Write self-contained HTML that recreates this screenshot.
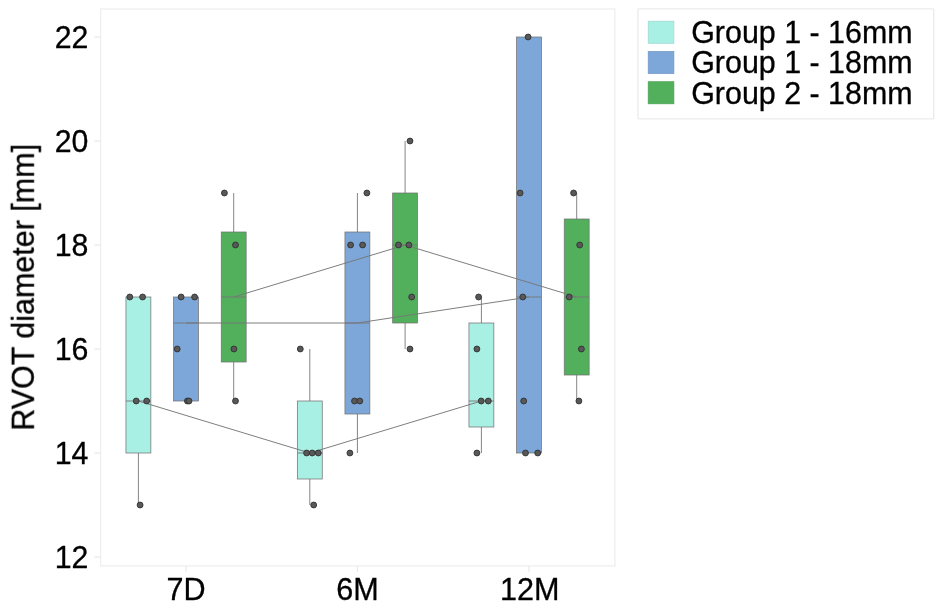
<!DOCTYPE html>
<html><head><meta charset="utf-8"><title>RVOT diameter</title>
<style>
html,body{margin:0;padding:0;background:#fff;}
svg{display:block}
.t{font-family:"Liberation Sans",sans-serif;font-size:30px;fill:#000;stroke:#000;stroke-width:0.3px;}
</style></head><body>
<svg width="945" height="608" viewBox="0 0 945 608">
<rect width="945" height="608" fill="#fff"/>
<g style="opacity:0.999">
<rect x="100.6" y="9.0" width="514.3" height="556.9" fill="#fff" stroke="#eeeeee" stroke-width="1.3"/>
<line x1="94.39999999999999" x2="100.6" y1="557.0" y2="557.0" stroke="#e9e9e9" stroke-width="1.2"/>
<text transform="translate(88.4,568.4) scale(1.01,1.048)" text-anchor="end" class="t">12</text>
<line x1="94.39999999999999" x2="100.6" y1="453.0" y2="453.0" stroke="#e9e9e9" stroke-width="1.2"/>
<text transform="translate(88.4,464.4) scale(1.01,1.048)" text-anchor="end" class="t">14</text>
<line x1="94.39999999999999" x2="100.6" y1="349.0" y2="349.0" stroke="#e9e9e9" stroke-width="1.2"/>
<text transform="translate(88.4,360.4) scale(1.01,1.048)" text-anchor="end" class="t">16</text>
<line x1="94.39999999999999" x2="100.6" y1="245.0" y2="245.0" stroke="#e9e9e9" stroke-width="1.2"/>
<text transform="translate(88.4,256.4) scale(1.01,1.048)" text-anchor="end" class="t">18</text>
<line x1="94.39999999999999" x2="100.6" y1="141.0" y2="141.0" stroke="#e9e9e9" stroke-width="1.2"/>
<text transform="translate(88.4,152.4) scale(1.01,1.048)" text-anchor="end" class="t">20</text>
<line x1="94.39999999999999" x2="100.6" y1="37.0" y2="37.0" stroke="#e9e9e9" stroke-width="1.2"/>
<text transform="translate(88.4,48.4) scale(1.01,1.048)" text-anchor="end" class="t">22</text>
<line x1="186.0" x2="186.0" y1="565.9" y2="571.6999999999999" stroke="#e9e9e9" stroke-width="1.2"/>
<text transform="translate(186.0,600.1) scale(1.02,1.06)" text-anchor="middle" class="t">7D</text>
<line x1="357.4" x2="357.4" y1="565.9" y2="571.6999999999999" stroke="#e9e9e9" stroke-width="1.2"/>
<text transform="translate(357.4,600.1) scale(1.02,1.06)" text-anchor="middle" class="t">6M</text>
<line x1="529.0" x2="529.0" y1="565.9" y2="571.6999999999999" stroke="#e9e9e9" stroke-width="1.2"/>
<text transform="translate(529.8,600.1) scale(1.02,1.06)" text-anchor="middle" class="t">12M</text>
<text transform="translate(33.8,287.3) rotate(-90) scale(1.0165,1.07)" text-anchor="middle" class="t">RVOT diameter [mm]</text>
<line x1="138.4" x2="138.4" y1="453.0" y2="505.0" stroke="#858585" stroke-width="1"/>
<rect x="125.95" y="297.0" width="24.9" height="156.0" fill="#a8efe4" stroke="#747474" stroke-width="0.75"/>
<line x1="125.95" x2="150.85" y1="401.0" y2="401.0" stroke="#777" stroke-width="0.9"/>
<rect x="173.55" y="297.0" width="24.9" height="104.0" fill="#7da7d9" stroke="#747474" stroke-width="0.75"/>
<line x1="173.55" x2="198.45" y1="323.0" y2="323.0" stroke="#777" stroke-width="0.9"/>
<line x1="233.7" x2="233.7" y1="232.0" y2="193.0" stroke="#858585" stroke-width="1"/>
<line x1="233.7" x2="233.7" y1="362.0" y2="401.0" stroke="#858585" stroke-width="1"/>
<rect x="221.25" y="232.0" width="24.9" height="130.0" fill="#52b05c" stroke="#747474" stroke-width="0.75"/>
<line x1="221.25" x2="246.15" y1="297.0" y2="297.0" stroke="#777" stroke-width="0.9"/>
<line x1="309.8" x2="309.8" y1="401.0" y2="349.0" stroke="#858585" stroke-width="1"/>
<line x1="309.8" x2="309.8" y1="479.0" y2="505.0" stroke="#858585" stroke-width="1"/>
<rect x="297.35" y="401.0" width="24.9" height="78.0" fill="#a8efe4" stroke="#747474" stroke-width="0.75"/>
<line x1="297.35" x2="322.25" y1="453.0" y2="453.0" stroke="#777" stroke-width="0.9"/>
<line x1="357.4" x2="357.4" y1="232.0" y2="193.0" stroke="#858585" stroke-width="1"/>
<line x1="357.4" x2="357.4" y1="414.0" y2="453.0" stroke="#858585" stroke-width="1"/>
<rect x="344.95" y="232.0" width="24.9" height="182.0" fill="#7da7d9" stroke="#747474" stroke-width="0.75"/>
<line x1="344.95" x2="369.85" y1="323.0" y2="323.0" stroke="#777" stroke-width="0.9"/>
<line x1="405.1" x2="405.1" y1="193.0" y2="141.0" stroke="#858585" stroke-width="1"/>
<line x1="405.1" x2="405.1" y1="323.0" y2="349.0" stroke="#858585" stroke-width="1"/>
<rect x="392.65" y="193.0" width="24.9" height="130.0" fill="#52b05c" stroke="#747474" stroke-width="0.75"/>
<line x1="392.65" x2="417.55" y1="245.0" y2="245.0" stroke="#777" stroke-width="0.9"/>
<line x1="481.4" x2="481.4" y1="323.0" y2="297.0" stroke="#858585" stroke-width="1"/>
<line x1="481.4" x2="481.4" y1="427.0" y2="453.0" stroke="#858585" stroke-width="1"/>
<rect x="468.95" y="323.0" width="24.9" height="104.0" fill="#a8efe4" stroke="#747474" stroke-width="0.75"/>
<line x1="468.95" x2="493.85" y1="401.0" y2="401.0" stroke="#777" stroke-width="0.9"/>
<rect x="516.55" y="37.0" width="24.9" height="416.0" fill="#7da7d9" stroke="#747474" stroke-width="0.75"/>
<line x1="516.55" x2="541.45" y1="297.0" y2="297.0" stroke="#777" stroke-width="0.9"/>
<line x1="576.7" x2="576.7" y1="219.0" y2="193.0" stroke="#858585" stroke-width="1"/>
<line x1="576.7" x2="576.7" y1="375.0" y2="401.0" stroke="#858585" stroke-width="1"/>
<rect x="564.25" y="219.0" width="24.9" height="156.0" fill="#52b05c" stroke="#747474" stroke-width="0.75"/>
<line x1="564.25" x2="589.15" y1="297.0" y2="297.0" stroke="#777" stroke-width="0.9"/>
<polyline points="138.4,401.0 309.8,453.0 481.4,401.0" fill="none" stroke="#777" stroke-width="0.95"/>
<polyline points="186.0,323.0 357.4,323.0 529.0,297.0" fill="none" stroke="#777" stroke-width="0.95"/>
<polyline points="233.7,297.0 405.1,245.0 576.7,297.0" fill="none" stroke="#777" stroke-width="0.95"/>
<circle cx="129.8" cy="297.0" r="2.95" fill="#585858" stroke="#2e2e2e" stroke-width="0.85"/>
<circle cx="142.6" cy="297.0" r="2.95" fill="#585858" stroke="#2e2e2e" stroke-width="0.85"/>
<circle cx="136.2" cy="401.0" r="2.95" fill="#585858" stroke="#2e2e2e" stroke-width="0.85"/>
<circle cx="146.7" cy="401.0" r="2.95" fill="#585858" stroke="#2e2e2e" stroke-width="0.85"/>
<circle cx="140.1" cy="505.0" r="2.95" fill="#585858" stroke="#2e2e2e" stroke-width="0.85"/>
<circle cx="181.1" cy="297.0" r="2.95" fill="#585858" stroke="#2e2e2e" stroke-width="0.85"/>
<circle cx="194.6" cy="297.0" r="2.95" fill="#585858" stroke="#2e2e2e" stroke-width="0.85"/>
<circle cx="177.2" cy="349.0" r="2.95" fill="#585858" stroke="#2e2e2e" stroke-width="0.85"/>
<circle cx="187.4" cy="401.0" r="2.95" fill="#585858" stroke="#2e2e2e" stroke-width="0.85"/>
<circle cx="189.0" cy="401.0" r="2.95" fill="#585858" stroke="#2e2e2e" stroke-width="0.85"/>
<circle cx="224.4" cy="193.0" r="2.95" fill="#585858" stroke="#2e2e2e" stroke-width="0.85"/>
<circle cx="235.5" cy="245.0" r="2.95" fill="#585858" stroke="#2e2e2e" stroke-width="0.85"/>
<circle cx="233.9" cy="349.0" r="2.95" fill="#585858" stroke="#2e2e2e" stroke-width="0.85"/>
<circle cx="235.5" cy="401.0" r="2.95" fill="#585858" stroke="#2e2e2e" stroke-width="0.85"/>
<circle cx="300.3" cy="349.0" r="2.95" fill="#585858" stroke="#2e2e2e" stroke-width="0.85"/>
<circle cx="306.6" cy="453.0" r="2.95" fill="#585858" stroke="#2e2e2e" stroke-width="0.85"/>
<circle cx="312.2" cy="453.0" r="2.95" fill="#585858" stroke="#2e2e2e" stroke-width="0.85"/>
<circle cx="318.3" cy="453.0" r="2.95" fill="#585858" stroke="#2e2e2e" stroke-width="0.85"/>
<circle cx="313.7" cy="505.0" r="2.95" fill="#585858" stroke="#2e2e2e" stroke-width="0.85"/>
<circle cx="366.9" cy="193.0" r="2.95" fill="#585858" stroke="#2e2e2e" stroke-width="0.85"/>
<circle cx="350.6" cy="245.0" r="2.95" fill="#585858" stroke="#2e2e2e" stroke-width="0.85"/>
<circle cx="362.6" cy="245.0" r="2.95" fill="#585858" stroke="#2e2e2e" stroke-width="0.85"/>
<circle cx="354.5" cy="401.0" r="2.95" fill="#585858" stroke="#2e2e2e" stroke-width="0.85"/>
<circle cx="359.8" cy="401.0" r="2.95" fill="#585858" stroke="#2e2e2e" stroke-width="0.85"/>
<circle cx="349.9" cy="453.0" r="2.95" fill="#585858" stroke="#2e2e2e" stroke-width="0.85"/>
<circle cx="410.0" cy="141.0" r="2.95" fill="#585858" stroke="#2e2e2e" stroke-width="0.85"/>
<circle cx="398.5" cy="245.0" r="2.95" fill="#585858" stroke="#2e2e2e" stroke-width="0.85"/>
<circle cx="408.9" cy="245.0" r="2.95" fill="#585858" stroke="#2e2e2e" stroke-width="0.85"/>
<circle cx="411.7" cy="297.0" r="2.95" fill="#585858" stroke="#2e2e2e" stroke-width="0.85"/>
<circle cx="410.0" cy="349.0" r="2.95" fill="#585858" stroke="#2e2e2e" stroke-width="0.85"/>
<circle cx="478.6" cy="297.0" r="2.95" fill="#585858" stroke="#2e2e2e" stroke-width="0.85"/>
<circle cx="476.9" cy="349.0" r="2.95" fill="#585858" stroke="#2e2e2e" stroke-width="0.85"/>
<circle cx="481.2" cy="401.0" r="2.95" fill="#585858" stroke="#2e2e2e" stroke-width="0.85"/>
<circle cx="488.3" cy="401.0" r="2.95" fill="#585858" stroke="#2e2e2e" stroke-width="0.85"/>
<circle cx="476.9" cy="453.0" r="2.95" fill="#585858" stroke="#2e2e2e" stroke-width="0.85"/>
<circle cx="528.1" cy="37.0" r="2.95" fill="#585858" stroke="#2e2e2e" stroke-width="0.85"/>
<circle cx="520.1" cy="193.0" r="2.95" fill="#585858" stroke="#2e2e2e" stroke-width="0.85"/>
<circle cx="522.8" cy="297.0" r="2.95" fill="#585858" stroke="#2e2e2e" stroke-width="0.85"/>
<circle cx="523.7" cy="401.0" r="2.95" fill="#585858" stroke="#2e2e2e" stroke-width="0.85"/>
<circle cx="525.5" cy="453.0" r="2.95" fill="#585858" stroke="#2e2e2e" stroke-width="0.85"/>
<circle cx="537.7" cy="453.0" r="2.95" fill="#585858" stroke="#2e2e2e" stroke-width="0.85"/>
<circle cx="573.6" cy="193.0" r="2.95" fill="#585858" stroke="#2e2e2e" stroke-width="0.85"/>
<circle cx="579.7" cy="245.0" r="2.95" fill="#585858" stroke="#2e2e2e" stroke-width="0.85"/>
<circle cx="569.2" cy="297.0" r="2.95" fill="#585858" stroke="#2e2e2e" stroke-width="0.85"/>
<circle cx="581.4" cy="349.0" r="2.95" fill="#585858" stroke="#2e2e2e" stroke-width="0.85"/>
<circle cx="578.9" cy="401.0" r="2.95" fill="#585858" stroke="#2e2e2e" stroke-width="0.85"/>
<rect x="637.9" y="8.8" width="295.8" height="110.1" fill="#fff" stroke="#ebebeb" stroke-width="1.3" rx="0.8"/>
<rect x="648.2" y="21.2" width="25.7" height="22.1" fill="#a8efe4" stroke="#9fd6cd" stroke-width="0.7"/>
<text transform="translate(691.2,43.099999999999994) scale(1.014,1.06)" class="t">Group 1 - 16mm</text>
<rect x="648.2" y="51.45" width="25.7" height="22.1" fill="#7da7d9" stroke="#7096c4" stroke-width="0.7"/>
<text transform="translate(691.2,73.35) scale(1.014,1.06)" class="t">Group 1 - 18mm</text>
<rect x="648.2" y="81.7" width="25.7" height="22.1" fill="#52b05c" stroke="#4a9f53" stroke-width="0.7"/>
<text transform="translate(691.2,103.6) scale(1.014,1.06)" class="t">Group 2 - 18mm</text>
</g>
</svg>
</body></html>
